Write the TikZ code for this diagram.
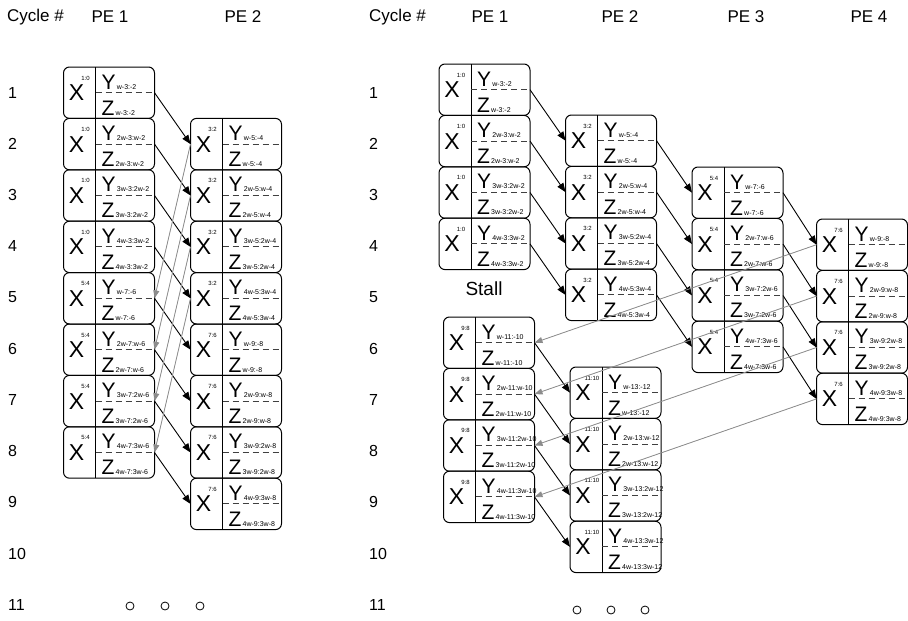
\documentclass[tikz,border=0pt]{standalone}
\usepackage{fontspec}
\setmainfont{Liberation Sans}
\usetikzlibrary{arrows.meta, positioning}

\newcommand{\subtxt}[1]{{\fontsize{7}{7}\selectfont\,#1}}
% one PE slot: name, position, X index, Y/Z range
\newcommand{\pecell}[4]{%
  \node[cell] (#1) at #2 {};
  \draw[line width=0.9pt] ([xshift=32pt]#1.north west) -- ([xshift=32pt]#1.south west);
  \draw[half] ([xshift=32pt]#1.west) -- (#1.east);
  \node[bigx] (#1x) at ([xshift=13pt]#1.west) {X};
  \node[supx] (#1s) at ([xshift=22pt,yshift=-11pt]#1.north west) {#3};
  \node[letter] (#1y) at ([xshift=38pt,yshift=-22pt]#1.north west) {Y\subtxt{#4}};
  \node[letter] (#1z) at ([xshift=38pt,yshift=-48pt]#1.north west) {Z\subtxt{#4}};
}
% four slots stacked: prefix, first row, x, y, X index, a, b
\newcommand{\pegroup}[7]{%
  \foreach \c/\m [count=\k from 0] in {{}/{}, 2/w, 3/2w, 4/3w}{%
    \pgfmathtruncatemacro{\r}{#2+\k}
    \pecell{#1-\r}{(#3,{#4+51.4*\k})}{#5}{\c w-#6:\m-#7}}}

\begin{document}
\begin{tikzpicture}[x=1pt, y=-1pt,
  cell/.style={draw, rounded corners=6pt, minimum width=91pt, minimum height=51.4pt, inner sep=0pt, outer sep=0pt, line width=1pt},
  half/.style={dashed, dash pattern=on 6pt off 4pt, draw=black!75, line width=0.9pt},
  bigx/.style={inner sep=0pt, font=\fontsize{23}{23}\selectfont},
  supx/.style={inner sep=0pt, font=\fontsize{6}{6}\selectfont},
  letter/.style={anchor=base west, inner sep=0pt, font=\fontsize{21}{21}\selectfont},
  head/.style={font=\fontsize{17}{20}\selectfont, inner sep=0pt},
  cyc/.style={anchor=west, font=\fontsize{16}{18}\selectfont, inner sep=0pt},
  fwd/.style={-{Triangle[length=9pt, width=7pt]}, line width=0.9pt},
  back/.style={-{Triangle[length=8pt, width=6pt]}, draw=black!45, fill=black!45, line width=0.8pt},
  dot/.style={circle, draw, minimum size=8pt, inner sep=0pt, line width=0.8pt}]
\useasboundingbox (0,0) rectangle (908,621);

% headers
\node[head, anchor=west] (lcyc) at (7,17) {Cycle \#};
\node[head] (lpe1) at (110,17) {PE 1};
\node[head] (lpe2) at (243,17) {PE 2};
\node[head, anchor=west] (rcyc) at (369,17) {Cycle \#};
\node[head] (rpe1) at (490,17) {PE 1};
\node[head] (rpe2) at (620,17) {PE 2};
\node[head] (rpe3) at (746,17) {PE 3};
\node[head] (rpe4) at (869,17) {PE 4};

% cycle numbers
\foreach \r in {1,...,11} {
  \node[cyc] (lc\r) at (8,{92.7+51.2*(\r-1)}) {\r};
  \node[cyc] (rc\r) at (369,{92.7+51.2*(\r-1)}) {\r};
}

% two PEs
\pegroup{a1}{1}{109}{92.7}{1:0}{3}{2}
\pegroup{a1}{5}{109}{298.3}{5:4}{7}{6}
\pegroup{a2}{2}{236}{144.1}{3:2}{5}{4}
\pegroup{a2}{6}{236}{349.7}{7:6}{9}{8}

% four PEs
\pegroup{b1}{1}{484.5}{89.7}{1:0}{3}{2}
\pegroup{b1}{6}{489}{342.7}{9:8}{11}{10}
\pegroup{b2}{2}{611}{140.7}{3:2}{5}{4}
\pegroup{b2}{7}{615.5}{392.7}{11:10}{13}{12}
\pegroup{b3}{3}{737.5}{192.7}{5:4}{7}{6}
\pegroup{b4}{4}{862}{244.7}{7:6}{9}{8}

\node[font=\fontsize{19}{20}\selectfont, inner sep=0pt] (stall) at (484,289) {Stall};

% forward links
\foreach \r in {1,...,8} {
  \pgfmathtruncatemacro{\n}{\r+1}
  \draw[fwd] (a1-\r.east) -- (a2-\n.west);
}
\foreach \r in {1,...,4} {
  \pgfmathtruncatemacro{\n}{\r+1}
  \draw[fwd] (b1-\r.east) -- (b2-\n.west);
  \pgfmathtruncatemacro{\p}{\r+1}
  \pgfmathtruncatemacro{\n}{\r+2}
  \draw[fwd] (b2-\p.east) -- (b3-\n.west);
  \pgfmathtruncatemacro{\p}{\r+2}
  \pgfmathtruncatemacro{\n}{\r+3}
  \draw[fwd] (b3-\p.east) -- (b4-\n.west);
  \pgfmathtruncatemacro{\p}{\r+5}
  \pgfmathtruncatemacro{\n}{\r+6}
  \draw[fwd] (b1-\p.east) -- (b2-\n.west);
}

% feedback links
\foreach \r in {2,...,5} {
  \pgfmathtruncatemacro{\n}{\r+3}
  \draw[back] (a2-\r.west) -- (a1-\n.east);
}
\foreach \r in {4,...,7} {
  \pgfmathtruncatemacro{\n}{\r+2}
  \draw[back] (b4-\r.west) -- (b1-\n.east);
}

% more cycles
\node[dot] (ld1) at (130,606) {};
\node[dot] (ld2) at (165,606) {};
\node[dot] (ld3) at (200,606) {};
\node[dot] (rd1) at (577,610) {};
\node[dot] (rd2) at (611,610) {};
\node[dot] (rd3) at (645,610) {};
\end{tikzpicture}
\end{document}
